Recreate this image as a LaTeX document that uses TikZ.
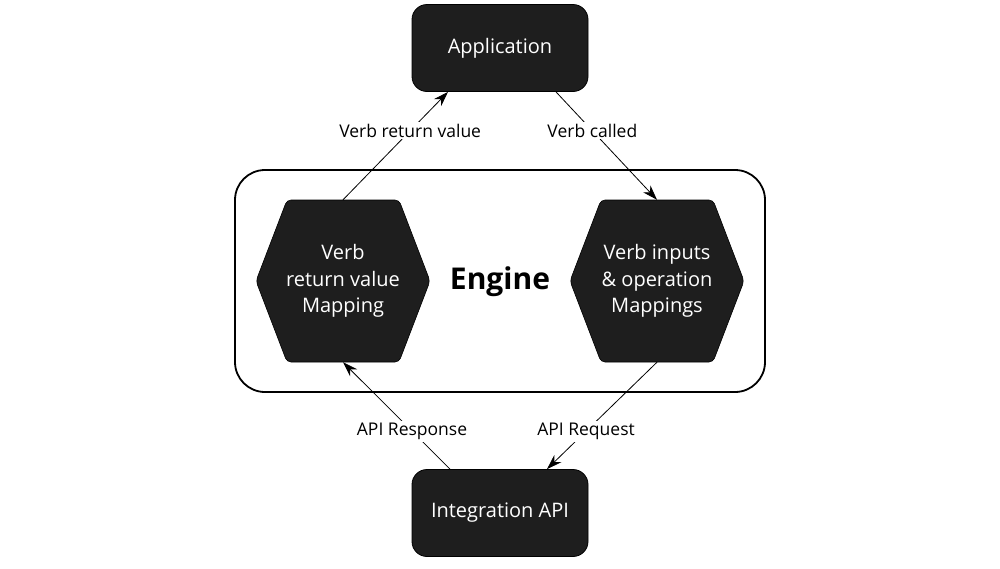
\documentclass[tikz,border=0pt]{standalone}
\usepackage{fontspec}
\setmainfont{Open Sans}
\usetikzlibrary{calc,arrows.meta}
\definecolor{boxfill}{HTML}{1E1E1E}
\begin{document}
\begin{tikzpicture}[x=1pt,y=-1pt,
  darkbox/.style={draw=black, line width=0.8pt, fill=boxfill, rounded corners=15pt,
    minimum width=176pt, minimum height=87pt, text=white, inner sep=0pt,
    font=\fontsize{20}{24}\selectfont},
  hexnode/.style={minimum width=174pt, minimum height=162pt, text=white, align=center,
    inner sep=0pt, font=\fontsize{20}{26.5}\selectfont},
  hexfill/.style={fill=boxfill, draw=black, line width=0.6pt, rounded corners=4pt},
  conn/.style={line width=0.8pt, -{Stealth[length=15pt,width=10pt]}},
  lbl/.style={fill=white, inner sep=2pt, font=\fontsize{17.5}{20}\selectfont}]
\useasboundingbox (0,0) rectangle (1000,568);

% Engine container
\draw[line width=1.8pt, rounded corners=30pt] (235,170) rectangle (765,392);
\node[font=\bfseries\fontsize{30}{34}\selectfont] (eng) at (500,282) {Engine};

% Top and bottom boxes
\node[darkbox] (app) at (500,48) {Application};
\node[darkbox] (int) at (500,513) {Integration API};

% Hexagons
\coordinate (lhc) at (343,281);
\coordinate (rhc) at (657,281);
\foreach \c in {lhc,rhc}{
  \path[hexfill] ($(\c)+(-56,-81)$) -- ($(\c)+(56,-81)$) -- ($(\c)+(87,0)$)
    -- ($(\c)+(56,81)$) -- ($(\c)+(-56,81)$) -- ($(\c)+(-87,0)$) -- cycle;
}
\node[hexnode] (lh) at (lhc) {Verb\\return value\\Mapping};
\node[hexnode] (rh) at (rhc) {Verb inputs\\\& operation\\Mappings};

% Connectors
\draw[conn] (lh.north) -- ($(app.south)+(-52,0)$)
  node[lbl,pos=0.64] {Verb return value};
\draw[conn] ($(app.south)+(56,0)$) -- (rh.north)
  node[lbl,pos=0.36] {Verb called};
\draw[conn] (rh.south) -- ($(int.north)+(47,0)$)
  node[lbl,pos=0.645] {API Request};
\draw[conn] ($(int.north)+(-50,0)$) -- (lh.south)
  node[lbl,pos=0.355] {API Response};
\end{tikzpicture}
\end{document}
